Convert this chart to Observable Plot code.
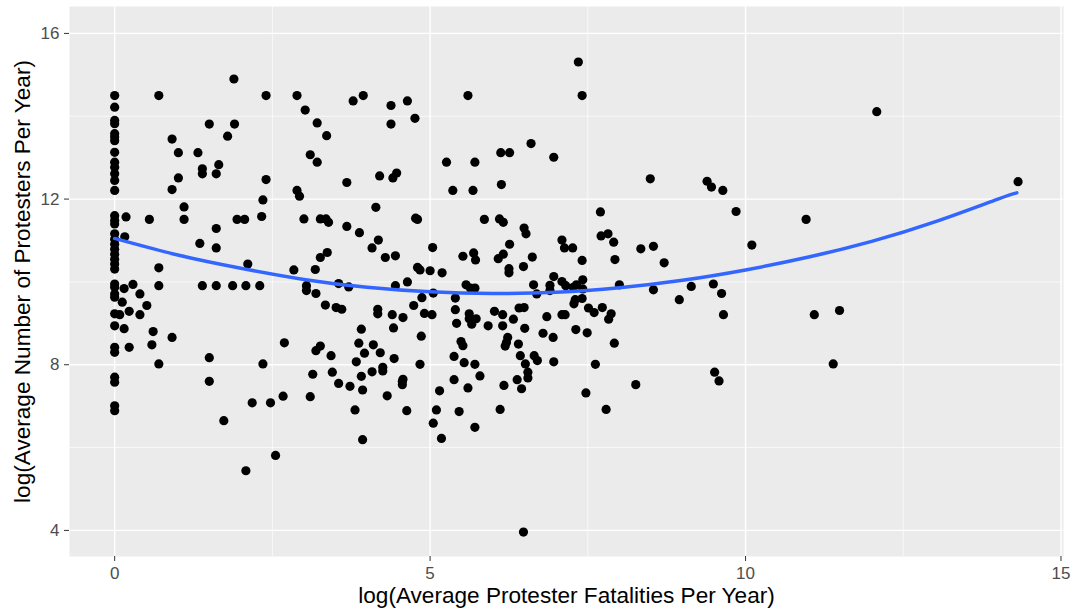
<!DOCTYPE html>
<html><head><meta charset="utf-8">
<script src="https://cdn.jsdelivr.net/npm/d3@7"></script>
<script src="https://cdn.jsdelivr.net/npm/@observablehq/plot@0.6"></script>
<style>html,body{margin:0;padding:0;background:#fff;} svg{display:block;}</style>
</head><body><div id="chart"></div>
<script>
// y values (log avg protesters) of observations with log fatalities = 0
const zeroFatalityProtesters = [14.50,14.22,13.90,13.82,13.58,13.50,13.41,13.13,12.89,12.77,12.61,12.45,12.21,11.60,11.48,11.40,11.16,11.03,10.91,10.79,10.67,10.55,10.43,10.31,9.95,9.87,9.71,9.63,9.23,8.94,8.42,8.30,7.70,7.58,7.01,6.89];
// [log fatalities, log protesters]
const observations = [
[0.70,14.50],[1.89,14.90],[2.40,14.50],[2.89,14.50],[3.02,14.15],[3.21,13.84],[3.36,13.53],[3.10,13.07],[3.21,12.89],[3.78,14.37],
[3.94,14.50],[4.38,14.26],[4.64,14.37],[4.38,13.81],[4.76,13.95],[1.50,13.81],[1.90,13.81],[1.79,13.52],[0.91,13.45],[1.01,13.12],
[1.32,13.12],[1.65,12.83],[1.39,12.73],[1.39,12.61],[1.61,12.61],[1.01,12.51],[0.91,12.23],[2.40,12.47],[2.89,12.21],[2.93,12.07],
[2.35,11.98],[3.68,12.40],[4.20,12.56],[4.41,12.51],[4.47,12.63],[5.60,14.50],[7.35,15.31],[7.41,14.50],[6.60,13.34],[6.12,13.12],
[6.26,13.12],[6.96,13.01],[5.26,12.89],[5.71,12.89],[5.36,12.21],[5.68,12.21],[6.13,12.35],[8.49,12.49],[9.39,12.43],[9.46,12.29],
[9.64,12.21],[12.08,14.11],[14.32,12.42],[0.18,11.57],[0.16,11.09],[0.55,11.51],[1.10,11.81],[1.10,11.51],[1.61,11.29],[1.35,10.93],
[1.61,10.82],[1.94,11.51],[2.06,11.51],[2.33,11.58],[2.11,10.43],[0.70,10.34],[0.70,9.91],[0.29,9.94],[0.15,9.84],[0.40,9.71],
[0.12,9.51],[0.51,9.43],[0.23,9.29],[0.40,9.21],[0.08,9.21],[0.15,8.87],[0.61,8.80],[0.59,8.48],[0.91,8.66],[0.23,8.42],
[0.70,8.02],[1.50,8.17],[2.35,8.02],[1.39,9.91],[1.61,9.91],[1.87,9.91],[2.08,9.91],[2.30,9.91],[2.84,10.29],[3.18,10.30],
[3.00,11.52],[3.26,11.52],[3.35,11.52],[3.39,11.44],[4.14,11.80],[3.68,11.34],[3.88,11.19],[4.18,11.01],[4.08,10.82],[3.26,10.59],
[3.37,10.71],[4.29,10.59],[4.45,10.63],[4.64,10.00],[4.45,9.91],[3.04,9.91],[3.04,9.79],[3.19,9.72],[3.55,9.96],[3.71,9.88],
[3.34,9.44],[3.51,9.38],[3.60,9.34],[4.17,9.34],[4.17,9.23],[4.40,9.21],[4.57,9.14],[4.74,9.43],[3.91,8.86],[4.42,8.89],
[3.87,8.52],[4.10,8.48],[3.96,8.28],[4.21,8.29],[4.43,8.15],[3.83,8.07],[2.69,8.53],[3.19,8.34],[3.26,8.45],[3.43,8.22],
[3.14,7.77],[3.45,7.82],[3.91,7.72],[4.08,7.83],[4.25,7.94],[4.25,7.85],[4.57,7.65],[1.50,7.60],[1.73,6.65],[2.18,7.08],
[2.47,7.08],[2.67,7.24],[2.08,5.44],[2.55,5.81],[3.10,7.23],[3.55,7.55],[3.73,7.48],[3.93,7.39],[3.81,6.91],[3.93,6.19],
[4.32,7.25],[4.56,7.60],[4.56,7.52],[4.63,6.89],[5.15,7.37],[5.38,7.64],[5.79,7.73],[5.60,7.44],[6.17,7.50],[6.38,7.64],
[6.55,7.68],[6.55,7.82],[6.45,7.42],[5.10,6.91],[5.05,6.59],[5.46,6.87],[5.18,6.22],[5.71,6.49],[6.11,6.92],[6.48,3.96],
[7.47,7.32],[7.79,6.92],[8.26,7.52],[9.51,7.82],[9.58,7.61],[9.85,11.70],[10.96,11.51],[10.10,10.89],[11.09,9.21],[11.49,9.31],
[11.39,8.02],[4.77,11.54],[4.80,11.51],[5.04,10.83],[4.80,10.35],[4.84,10.29],[5.00,10.27],[5.19,10.22],[5.05,9.73],[4.87,9.62],
[4.91,9.24],[5.03,9.21],[4.86,8.69],[4.84,8.01],[5.52,10.62],[5.69,10.70],[5.72,10.53],[5.86,11.51],[6.10,11.52],[6.16,11.44],
[6.49,11.30],[6.52,11.16],[6.26,10.91],[6.16,10.67],[6.08,10.56],[6.25,10.32],[6.25,10.22],[6.48,10.37],[6.62,10.60],[7.09,11.01],
[7.13,10.82],[7.26,10.82],[7.41,10.52],[7.70,11.69],[7.71,11.11],[7.82,11.16],[7.91,10.96],[7.93,10.54],[8.34,10.80],[8.54,10.86],
[8.71,10.46],[5.57,9.93],[5.64,9.85],[5.71,9.85],[5.40,9.61],[5.40,9.33],[5.62,9.23],[5.62,9.11],[5.73,9.11],[5.66,8.98],
[5.42,9.00],[6.02,9.29],[6.15,9.21],[6.32,9.10],[6.41,9.37],[6.49,9.38],[5.92,8.94],[6.15,8.94],[6.50,8.88],[6.64,9.93],
[6.69,9.71],[6.96,10.13],[6.90,9.92],[6.90,9.79],[7.09,10.01],[7.15,9.91],[7.27,9.87],[7.32,9.93],[7.42,10.05],[7.42,9.83],
[7.41,9.60],[7.28,9.47],[7.30,9.57],[7.51,9.37],[7.60,9.26],[7.73,9.38],[7.87,9.23],[7.83,9.10],[8.00,9.93],[6.85,9.16],
[7.09,9.21],[7.14,9.21],[6.79,8.76],[6.95,8.66],[7.31,8.85],[7.49,8.77],[7.92,8.52],[7.62,8.01],[8.54,9.81],[8.95,9.57],
[9.14,9.89],[9.49,9.95],[9.62,9.72],[9.65,9.21],[5.49,8.56],[5.52,8.46],[5.38,8.20],[5.54,8.05],[5.71,8.01],[6.23,8.66],
[6.21,8.54],[6.19,8.45],[6.40,8.50],[6.43,8.22],[6.65,8.22],[6.70,8.10],[6.96,8.07],[6.51,8.02]
];
// fitted smooth
const smoothX = [0,1,2,3,4,5,6,7,8,9,10,11,12,13,14,14.3];
const smoothY = [11.05,10.65,10.33,10.06,9.87,9.76,9.72,9.75,9.86,10.04,10.29,10.60,10.98,11.45,12.00,12.15];
const xTicks = [0,5,10,15];
const yTicks = [4,8,12,16];
const xMinor = [2.5,7.5,12.5];
const yMinor = [6,10,14];
const xTitle = "log(Average Protester Fatalities Per Year)";
const yTitle = "log(Average Number of Protesters Per Year)";

const points = zeroFatalityProtesters.map(y => ({x: 0, y}))
  .concat(observations.map(([x, y]) => ({x, y})));
const smooth = smoothX.map((x, i) => ({x, y: smoothY[i]}));

const chart = Plot.plot({
  width: 1077, height: 616,
  marginLeft: 69, marginRight: 14, marginTop: 6, marginBottom: 60,
  style: {fontFamily: "'Liberation Sans', Arial, sans-serif", fontSize: "17px", background: "#fff"},
  x: {domain: [-0.716, 15.04], axis: null},
  y: {domain: [3.37, 16.65], axis: null},
  marks: [
    Plot.frame({fill: "#ebebeb", stroke: "none"}),
    Plot.ruleX(xMinor, {stroke: "#fff", strokeWidth: 0.7}),
    Plot.ruleY(yMinor, {stroke: "#fff", strokeWidth: 0.7}),
    Plot.ruleX(xTicks, {stroke: "#fff", strokeWidth: 1.4}),
    Plot.ruleY(yTicks, {stroke: "#fff", strokeWidth: 1.4}),
    Plot.axisX({ticks: xTicks, tickSize: 5, stroke: "#333", tickFormat: () => "", label: null}),
    Plot.axisY({ticks: yTicks, tickSize: 5, stroke: "#333", tickFormat: () => "", label: null}),
    Plot.text(xTicks, {x: d => d, text: d => String(d), frameAnchor: "bottom", lineAnchor: "top", dy: 10, fontSize: 17, fill: "#4d4d4d"}),
    Plot.text(yTicks, {y: d => d, text: d => String(d), frameAnchor: "left", textAnchor: "end", dx: -10, fontSize: 17, fill: "#4d4d4d"}),
    Plot.dot(points, {x: "x", y: "y", r: 4.6, fill: "black", stroke: "none"}),
    Plot.line(smooth, {x: "x", y: "y", stroke: "#3366FF", strokeWidth: 3.5, curve: "natural"}),
    Plot.text([xTitle], {text: d => d, frameAnchor: "bottom", dy: 46, fontSize: 22.6, fill: "black"}),
    Plot.text([yTitle], {text: d => d, frameAnchor: "left", textAnchor: "middle", dx: -47, rotate: -90, fontSize: 22.6, fill: "black"})
  ]
});
document.getElementById("chart").appendChild(chart);
</script>
</body></html>
